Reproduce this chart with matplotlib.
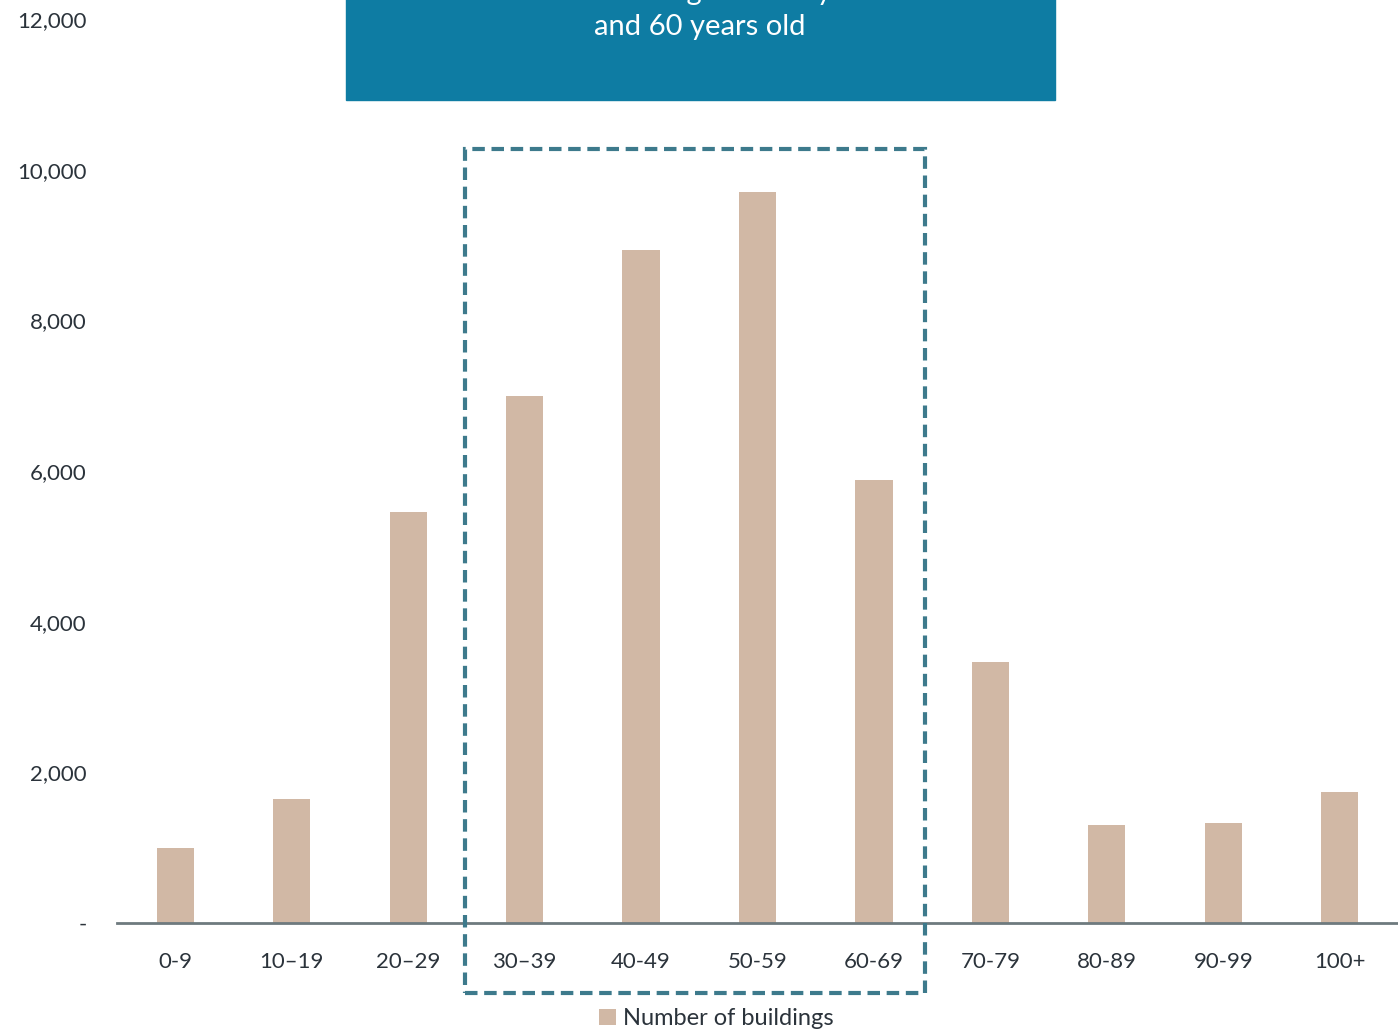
import matplotlib.pyplot as plt
from matplotlib.patches import Rectangle

# building age bands and counts
age_bands = ["0-9", "10\u201319", "20\u201329", "30\u201339", "40-49", "50-59",
             "60-69", "70-79", "80-89", "90-99", "100+"]
buildings = [1000, 1650, 5450, 7000, 8940, 9700, 5880, 3470, 1300, 1330, 1740]
y_ticks = [0, 2000, 4000, 6000, 8000, 10000, 12000]
y_labels = ["-", "2,000", "4,000", "6,000", "8,000", "10,000", "12,000"]
callout_1 = "Over 60% of the building inventory is between 30"
callout_2 = "and 60 years old"

plt.rcParams['font.family'] = ['Lato', 'DejaVu Sans']
text_col = "#2b333b"

fig = plt.figure(figsize=(13.98, 10.33), dpi=100)
ax = fig.add_axes([117 / 1398, 1 - 923 / 1033, 1 - 117 / 1398, (923 - 19) / 1033])

x = list(range(len(age_bands)))
ax.bar(x, buildings, width=0.32, color="#d1b8a5", label="Number of buildings", zorder=2)

ax.set_xlim(-0.5, len(age_bands) - 0.5)
ax.set_ylim(0, 12000)
ax.set_yticks(y_ticks)
ax.set_yticklabels(y_labels)
ax.set_xticks(x)
ax.set_xticklabels(age_bands)
ax.tick_params(axis="both", length=0, labelsize=16, colors=text_col)
ax.tick_params(axis="y", pad=22)
ax.tick_params(axis="x", pad=21)
for s in ["top", "right", "left"]:
    ax.spines[s].set_visible(False)
ax.spines["bottom"].set_color("#6e7a7e")
ax.spines["bottom"].set_linewidth(2)
ax.spines["bottom"].set_zorder(3)

# dashed highlight around 30-69
i0 = age_bands.index("30\u201339")
i1 = age_bands.index("60-69")
box = Rectangle((i0 - 0.51, -930), (i1 - i0) + 0.95, 11210, fill=False,
                edgecolor="#3d7a8c", linewidth=3, linestyle=(0, (3, 1.6)),
                clip_on=False, zorder=4)
ax.add_patch(box)

# callout box at top
fig.patches.append(Rectangle((346 / 1398, 1 - 100 / 1033), (1055 - 346) / 1398, 0.2,
                             transform=fig.transFigure, color="#0e7ca3", zorder=5))
fig.text(700 / 1398, 1 + 8 / 1033, callout_1, ha="center", va="center", color="white",
         fontsize=21, zorder=6)
fig.text(700 / 1398, 1 - 27 / 1033, callout_2, ha="center", va="center", color="white",
         fontsize=21, zorder=6)

leg = ax.legend(loc="center", bbox_to_anchor=(0.468, -0.106), frameon=False,
                fontsize=17, handlelength=0.7, handleheight=0.7, handletextpad=0.3,
                borderpad=0)
for t in leg.get_texts():
    t.set_color(text_col)

fig.savefig("out.png", dpi=100)
